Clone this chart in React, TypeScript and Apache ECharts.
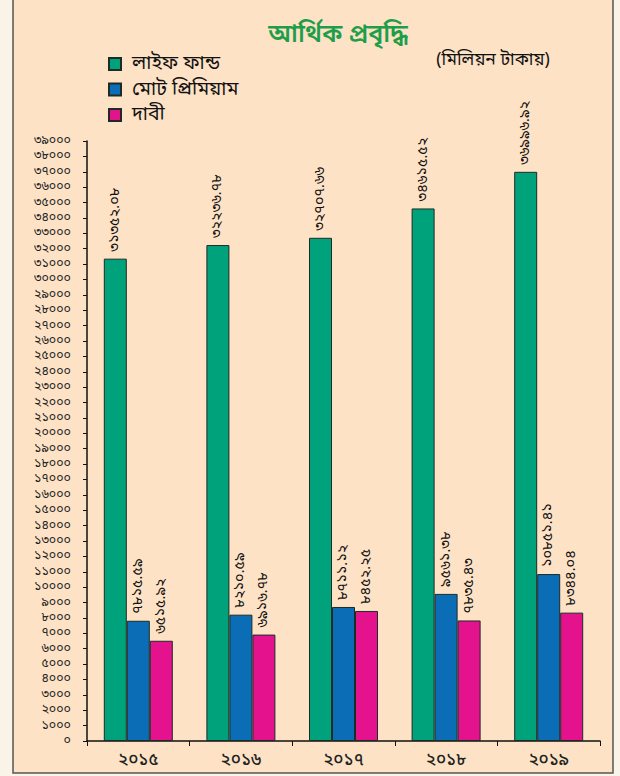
import React, { useEffect, useRef } from "react";
import * as echarts from "echarts";

const years = ["২০১৫", "২০১৬", "২০১৭", "২০১৮", "২০১৯"];
const lifeFund = [31352.08, 32236.78, 32707.66, 34615.52, 36996.92];
const premium = [7815.59, 8210.59, 8711.12, 9561.38, 10851.41];
const claims = [6515.92, 6916.78, 8452.25, 7835.43, 8344.04];
const seriesNames = ["লাইফ ফান্ড", "মোট প্রিমিয়াম", "দাবী"];
const colors = ["#00A27C", "#0A6DB5", "#E5128E"];

const BN = "০১২৩৪৫৬৭৮৯";
const toBn = (s: string) => s.replace(/[0-9]/g, (d) => BN[Number(d)]);
const FONT = "'Noto Sans Bengali', 'Lohit Bengali', 'Noto Sans', sans-serif";

export default function App() {
  const ref = useRef<HTMLDivElement>(null);
  useEffect(() => {
    document.body.style.margin = "0";
    const chart = echarts.init(ref.current!, null, { renderer: "svg" });
    const mk = (i: number, data: number[]) => ({
      name: seriesNames[i],
      type: "bar",
      data,
      barWidth: 23,
      barGap: "0%",
      itemStyle: { color: colors[i], borderColor: "#1d2b25", borderWidth: 1 },
      label: {
        show: true,
        position: "top",
        rotate: 90,
        align: "left",
        verticalAlign: "middle",
        distance: 7,
        fontSize: 14.5,
        fontFamily: FONT,
        color: "#111",
        formatter: (p: any) => toBn(Number(p.value).toFixed(2)),
      },
    });
    chart.setOption({
      animation: false,
      backgroundColor: "#FAF4E8",
      graphic: [
        {
          type: "rect",
          z: -10,
          shape: { x: 13, y: -2, width: 600, height: 775 },
          style: { fill: "#FDE2C6", stroke: "#555", lineWidth: 1.5 },
        },
      ],
      title: [
        {
          text: "আর্থিক প্রবৃদ্ধি",
          left: 333,
          top: 18,
          textAlign: "center",
          textStyle: { color: "#1E9E4A", fontSize: 25, fontWeight: 600, fontFamily: FONT },
        },
        {
          text: "(মিলিয়ন টাকায়)",
          left: 488,
          top: 46,
          textAlign: "center",
          textStyle: { color: "#111", fontSize: 17.5, fontWeight: "normal", fontFamily: FONT },
        },
      ],
      legend: {
        orient: "vertical",
        left: 103,
        top: 49,
        itemWidth: 12,
        itemHeight: 12,
        itemGap: 5.5,
        icon: "rect",
        textStyle: { fontSize: 19.5, lineHeight: 20, color: "#111", fontFamily: FONT, padding: [0, 0, 0, 6] },
        data: seriesNames,
      },
      grid: { left: 87, right: 20, top: 141, bottom: 35 },
      xAxis: {
        type: "category",
        data: years,
        axisLine: { lineStyle: { color: "#111", width: 1.5 } },
        axisTick: { show: true, alignWithLabel: false, length: 5, lineStyle: { color: "#111" } },
        axisLabel: { fontSize: 17, color: "#222", fontWeight: 500, fontFamily: FONT, margin: 11 },
      },
      yAxis: {
        type: "value",
        min: 0,
        max: 39000,
        interval: 1000,
        axisLine: { show: true, lineStyle: { color: "#111", width: 1.5 } },
        axisTick: { show: true, length: 4, lineStyle: { color: "#111" } },
        splitLine: { show: false },
        axisLabel: {
          fontSize: 12.5,
          lineHeight: 13,
          color: "#222",
          fontFamily: FONT,
          margin: 16,
          formatter: (v: number) => toBn(String(v)),
        },
      },
      series: [mk(0, lifeFund), mk(1, premium), mk(2, claims)],
    });
    return () => chart.dispose();
  }, []);
  return <div ref={ref} style={{ width: 620, height: 776 }} />;
}
